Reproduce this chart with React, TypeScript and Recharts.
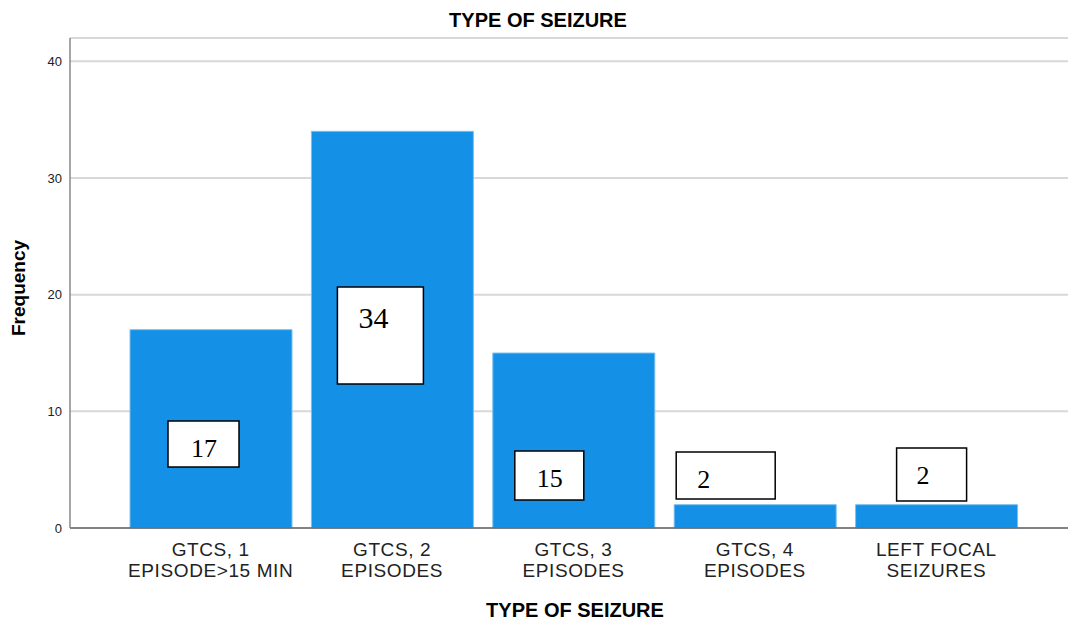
import { BarChart, Bar, XAxis, YAxis, CartesianGrid, LabelList } from 'recharts';

// Frequency of each seizure type
const categories = [
  'GTCS, 1 EPISODE>15 MIN',
  'GTCS, 2 EPISODES',
  'GTCS, 3 EPISODES',
  'GTCS, 4 EPISODES',
  'LEFT FOCAL SEIZURES',
];
const categoryLines = [
  ['GTCS, 1', 'EPISODE>15 MIN'],
  ['GTCS, 2', 'EPISODES'],
  ['GTCS, 3', 'EPISODES'],
  ['GTCS, 4', 'EPISODES'],
  ['LEFT FOCAL', 'SEIZURES'],
];
const frequencies = [17, 34, 15, 2, 2];
const yTicks = [0, 10, 20, 30, 40];

const data = categories.map((name, i) => ({ name, value: frequencies[i], lines: categoryLines[i] }));

// hand-placed value boxes: offset from the bar's bottom-left corner, box size, text inset
const boxes = [
  { dx: 38, rise: 107, w: 71, h: 46, tx: 23, ty: 36, fs: 26 },
  { dx: 26, rise: 241, w: 86, h: 97, tx: 21, ty: 41, fs: 30 },
  { dx: 22, rise: 77, w: 69, h: 49, tx: 22, ty: 36, fs: 26 },
  { dx: 2, rise: 76, w: 99, h: 47, tx: 21, ty: 36, fs: 26 },
  { dx: 41, rise: 80, w: 70, h: 53, tx: 20, ty: 36, fs: 26 },
];

const W = 1068;
const H = 622;
const SANS = '"Liberation Sans", Arial, sans-serif';
const SERIF = '"Liberation Serif", "Times New Roman", serif';

const CategoryTick = ({ x, y, payload, index }: any) => {
  const lines = categoryLines[index] ?? [String(payload.value)];
  return (
    <text x={x} y={y} textAnchor="middle" fill="#222" fontSize={19} fontFamily={SANS} letterSpacing={0.6}>
      {lines.map((ln: string, i: number) => (
        <tspan key={ln} x={x} y={y + 28 + i * 21}>{ln}</tspan>
      ))}
    </text>
  );
};

const ValueBox = (props: any) => {
  const { x, y, height, value, index } = props;
  const b = boxes[index];
  if (!b) return null;
  const bottom = y + height;
  const left = x + b.dx;
  const top = bottom - b.rise;
  return (
    <g>
      <rect x={left} y={top} width={b.w} height={b.h} fill="#fff" stroke="#000" strokeWidth={1.5} />
      <text x={left + b.tx} y={top + b.ty} fontSize={b.fs} fontFamily={SERIF} fill="#000">{value}</text>
    </g>
  );
};

export default function App() {
  return (
    <div style={{ position: 'absolute', left: 0, top: 0, width: W, height: H, background: '#fff' }}>
      <BarChart width={W} height={H} data={data} margin={{ top: 38, right: 0, bottom: 0, left: 0 }}>
        <CartesianGrid horizontal vertical={false} stroke="#d8d8d8" strokeWidth={2} />
        <XAxis
          dataKey="name"
          height={94}
          padding={{ left: 50, right: 41 }}
          tickLine={false}
          tickSize={0}
          tickMargin={0}
          axisLine={{ stroke: '#666', strokeWidth: 1.5 }}
          tick={<CategoryTick />}
          interval={0}
        />
        <YAxis
          width={70}
          domain={[0, 42]}
          ticks={yTicks}
          tickLine={false}
          tickSize={0}
          tickMargin={8}
          axisLine={{ stroke: '#888', strokeWidth: 1.5 }}
          tick={{ fontSize: 13, fill: '#222', fontFamily: SANS }}
        />
        <Bar dataKey="value" barSize={162} fill="#1490e6" stroke="#7cc0f0" strokeWidth={1} isAnimationActive={false}>
          <LabelList dataKey="value" content={<ValueBox />} />
        </Bar>
      </BarChart>
      <svg width={W} height={H} style={{ position: 'absolute', left: 0, top: 0, pointerEvents: 'none' }}>
        <text x={538} y={27} textAnchor="middle" fontSize={20} fontWeight="bold" fontFamily={SANS} fill="#000">
          TYPE OF SEIZURE
        </text>
        <text x={575} y={617} textAnchor="middle" fontSize={20} fontWeight="bold" fontFamily={SANS} fill="#000">
          TYPE OF SEIZURE
        </text>
        <text
          x={25}
          y={288}
          textAnchor="middle"
          fontSize={19}
          fontWeight="bold"
          fontFamily={SANS}
          fill="#000"
          transform="rotate(-90 25 288)"
        >
          Frequency
        </text>
      </svg>
    </div>
  );
}
